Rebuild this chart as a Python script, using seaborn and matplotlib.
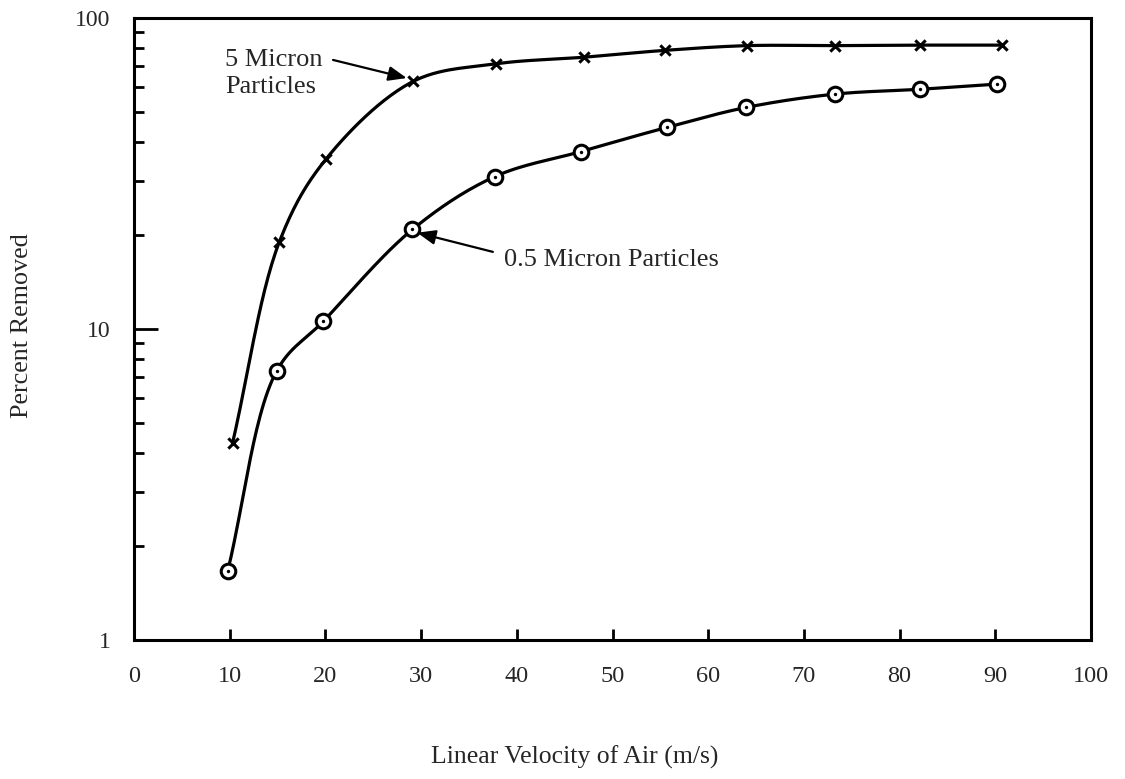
import numpy as np
import matplotlib
matplotlib.use("Agg")
import matplotlib.pyplot as plt
from matplotlib.ticker import FixedLocator, NullFormatter
import seaborn as sns

# values
velocity_5um = [10.3, 15.2, 20.1, 29.2, 37.8, 47.0, 55.5, 64.1, 73.3, 82.1, 90.7]
removed_5um = [4.3, 19.1, 35.3, 62.6, 71.2, 74.8, 78.7, 81.5, 81.5, 81.8, 81.8]
velocity_05um = [9.8, 14.9, 19.8, 29.1, 37.7, 46.7, 55.7, 64.0, 73.2, 82.1, 90.2]
removed_05um = [1.67, 7.32, 10.6, 20.9, 30.9, 37.2, 44.5, 51.6, 56.9, 59.0, 61.3]
x_ticks = list(range(0, 101, 10))
y_ticks = [1, 10, 100]
y_minor = [m * d for d in (1, 10) for m in range(2, 10)]


def smooth_curve(x, y, n=30):
    # centripetal Catmull-Rom through the points, in (x, log y) screen-like space
    sx, sy = 9.57, 311.0
    P = np.column_stack([np.asarray(x, float) * sx, np.log10(y) * sy])
    P = np.vstack([2 * P[0] - P[1], P, 2 * P[-1] - P[-2]])
    out = []
    for i in range(1, len(P) - 2):
        p0, p1, p2, p3 = P[i - 1:i + 3]
        t0 = 0.0
        t1 = t0 + np.linalg.norm(p1 - p0) ** 0.5
        t2 = t1 + np.linalg.norm(p2 - p1) ** 0.5
        t3 = t2 + np.linalg.norm(p3 - p2) ** 0.5
        t = np.linspace(t1, t2, n)[:, None]
        a1 = (t1 - t) / (t1 - t0) * p0 + (t - t0) / (t1 - t0) * p1
        a2 = (t2 - t) / (t2 - t1) * p1 + (t - t1) / (t2 - t1) * p2
        a3 = (t3 - t) / (t3 - t2) * p2 + (t - t2) / (t3 - t2) * p3
        b1 = (t2 - t) / (t2 - t0) * a1 + (t - t0) / (t2 - t0) * a2
        b2 = (t3 - t) / (t3 - t1) * a2 + (t - t1) / (t3 - t1) * a3
        out.append((t2 - t) / (t2 - t1) * b1 + (t - t1) / (t2 - t1) * b2)
    C = np.vstack(out)
    return C[:, 0] / sx, 10 ** (C[:, 1] / sy)


sns.set_style("ticks")
plt.rcParams["font.family"] = ["Liberation Serif", "DejaVu Serif"]

fig = plt.figure(figsize=(11.25, 7.79), dpi=100)
ax = fig.add_axes([0.1191, 0.1784, 0.8507, 0.7985])

for vx, vy in ((velocity_5um, removed_5um), (velocity_05um, removed_05um)):
    cx, cy = smooth_curve(vx, vy)
    sns.lineplot(x=cx, y=cy, ax=ax, color="black", linewidth=2.3,
                 estimator=None, sort=False)

sns.scatterplot(x=velocity_5um, y=removed_5um, ax=ax, marker="x", s=55,
                color="black", linewidth=2.2, zorder=5)
sns.scatterplot(x=velocity_05um, y=removed_05um, ax=ax, marker="o", s=110,
                facecolor="white", edgecolor="black", linewidth=2.2, zorder=5)
sns.scatterplot(x=velocity_05um, y=removed_05um, ax=ax, marker="o", s=6,
                color="black", linewidth=0, zorder=6)

ax.set_yscale("log")
ax.set_xlim(0, 100)
ax.set_ylim(1, 100)
ax.xaxis.set_major_locator(FixedLocator(x_ticks))
ax.set_xticklabels([str(v) for v in x_ticks])
ax.yaxis.set_major_locator(FixedLocator(y_ticks))
ax.set_yticklabels([str(v) for v in y_ticks])
ax.yaxis.set_minor_locator(FixedLocator(y_minor))
ax.yaxis.set_minor_formatter(NullFormatter())

ax.tick_params(axis="x", which="major", direction="in", length=8, width=2,
               pad=19, labelsize=17.5, color="black", bottom=True)
ax.tick_params(axis="y", which="major", direction="in", length=17, width=2,
               pad=17, labelsize=17, color="black", left=True)
ax.tick_params(axis="y", which="minor", direction="in", length=7, width=2,
               color="black", left=True)
for sp in ax.spines.values():
    sp.set_visible(True)
    sp.set_linewidth(2.2)
    sp.set_color("black")

ax.set_xlabel("Linear Velocity of Air (m/s)", fontsize=18.5)
ax.set_ylabel("Percent Removed", fontsize=18.8)
ax.xaxis.set_label_coords(0.46, -0.169)
ax.yaxis.set_label_coords(-0.105, 0.506)

# callouts
ax.text(9.5, 66.5, "5 Micron\nParticles", fontsize=19, ha="left", va="center",
        linespacing=1.3)
ax.annotate("", xy=(28.5, 64.1), xytext=(20.8, 73.3),
            arrowprops=dict(arrowstyle="-|>,head_length=0.5,head_width=0.2",
                            color="black", lw=1.6, mutation_scale=22,
                            shrinkA=0, shrinkB=0))
ax.text(38.7, 16.7, "0.5 Micron Particles", fontsize=19, ha="left", va="center")
ax.annotate("", xy=(29.6, 20.4), xytext=(37.5, 17.7),
            arrowprops=dict(arrowstyle="-|>,head_length=0.5,head_width=0.2",
                            color="black", lw=1.6, mutation_scale=22,
                            shrinkA=0, shrinkB=0))

fig.savefig("out.png", dpi=100)
